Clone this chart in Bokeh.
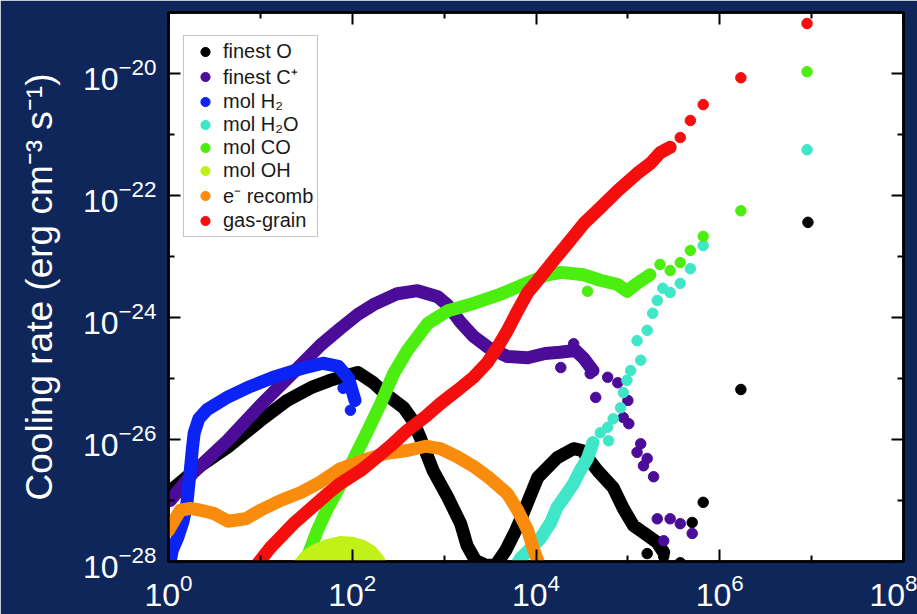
from bokeh.plotting import figure
from bokeh.models import (LogAxis, FixedTicker, Legend, LegendItem, Range1d,
                          CustomJSTickFormatter, LogTickFormatter)
from bokeh.embed import file_html
from bokeh.resources import INLINE

# ---- axes / ticks ----
x_tick_values = [1e0, 1e2, 1e4, 1e6, 1e8]
x_minor_values = [1e1, 1e3, 1e5, 1e7]
y_tick_values = [1e-28, 1e-26, 1e-24, 1e-22, 1e-20]
y_minor_values = [1e-27, 1e-25, 1e-23, 1e-21, 1e-19]
y_axis_title = "Cooling rate (erg cm\u207b\u00b3 s\u207b\u00b9)"
x_lo, x_hi = 1e0, 1e8
y_lo, y_hi = 1e-28, 1e-19

# ---- series (log10 values) ----
# finest O
o_lx = [0.02, 0.18, 0.35, 0.64, 1.00, 1.29, 1.55, 1.76, 2.06, 2.23, 2.36, 2.56, 2.66, 2.74, 2.88,
        3.04, 3.18, 3.25, 3.34, 3.45, 3.56, 3.67, 3.78, 3.86, 4.02, 4.23, 4.41, 4.50, 4.67, 4.84,
        4.95, 5.06, 5.21, 5.32, 5.39]
o_ly = [-26.84, -26.64, -26.43, -26.13, -25.69, -25.36, -25.15, -25.03, -24.90, -25.07, -25.25,
        -25.48, -25.69, -25.97, -26.51, -26.95, -27.38, -27.74, -27.98, -28.06, -28.06, -27.82,
        -27.49, -27.21, -26.62, -26.30, -26.15, -26.18, -26.51, -26.79, -27.13, -27.41, -27.57,
        -27.69, -27.85]
o_sparse_lx = [5.21, 5.39, 5.57, 5.70, 5.82, 6.23, 6.96]
o_sparse_ly = [-27.87, -27.92, -28.02, -27.36, -27.03, -25.18, -22.44]

# finest C+
c_lx = [0.02, 0.27, 0.64, 1.00, 1.36, 1.65, 1.87, 2.06, 2.23, 2.49, 2.71, 2.93, 3.04, 3.18, 3.32,
        3.47, 3.69, 3.91, 4.10, 4.26, 4.43, 4.52, 4.62]
c_ly = [-27.00, -26.54, -26.02, -25.44, -24.90, -24.46, -24.18, -23.95, -23.79, -23.61, -23.56,
        -23.66, -23.80, -24.08, -24.31, -24.48, -24.64, -24.66, -24.59, -24.57, -24.54, -24.67,
        -24.87]
c_sparse_lx = [4.41, 4.27, 4.59, 4.65, 4.78, 4.89, 5.00, 4.95, 5.01, 5.10, 5.14, 5.21, 5.17, 5.28,
               5.32, 5.46, 5.57, 5.70, 5.39]
c_sparse_ly = [-24.43, -24.82, -24.92, -25.31, -24.98, -25.07, -25.36, -25.64, -25.74, -26.21,
               -26.07, -26.31, -26.43, -26.61, -27.30, -27.30, -27.38, -27.54, -27.66]

# mol H2
h2_lx = [0.01, 0.04, 0.10, 0.16, 0.20, 0.22, 0.24, 0.26, 0.28, 0.33, 0.42, 0.65, 0.89, 1.16, 1.44,
         1.68, 1.85, 1.96, 2.03]
h2_ly = [-28.07, -27.82, -27.61, -27.33, -27.05, -26.75, -26.46, -26.15, -25.89, -25.66, -25.51,
         -25.30, -25.13, -24.97, -24.84, -24.75, -24.80, -25.00, -25.36]
h2_sparse_lx = [1.90, 1.98]
h2_sparse_ly = [-25.16, -25.52]

# mol H2O
h2o_lx = [3.74, 3.83, 3.94, 4.05, 4.16, 4.23, 4.32, 4.41, 4.48, 4.56, 4.62]
h2o_ly = [-28.18, -27.95, -27.79, -27.62, -27.36, -27.11, -26.92, -26.72, -26.51, -26.31, -26.05]
h2o_sparse_lx = [4.70, 4.78, 4.79, 4.84, 4.92, 4.95, 4.99, 5.03, 5.14, 5.10, 5.21, 5.27, 5.32,
                 5.38, 5.46, 5.57, 5.68, 5.82, 6.95]
h2o_sparse_ly = [-25.89, -25.80, -26.02, -25.66, -25.48, -25.23, -25.03, -24.87, -24.70, -24.38,
                 -24.21, -23.93, -23.72, -23.52, -23.59, -23.44, -23.20, -22.82, -21.25]

# mol CO
co_lx = [1.38, 1.51, 1.62, 1.73, 1.87, 1.98, 2.17, 2.31, 2.45, 2.60, 2.82, 3.04, 3.32, 3.61, 3.91,
         4.10, 4.27, 4.52, 4.70, 4.89, 4.99, 5.10, 5.24]
co_ly = [-28.23, -27.93, -27.49, -27.13, -26.75, -26.43, -25.85, -25.41, -24.92, -24.54, -24.10,
         -23.89, -23.77, -23.62, -23.43, -23.31, -23.26, -23.30, -23.39, -23.46, -23.57, -23.44,
         -23.30]
co_sparse_lx = [5.35, 5.46, 5.57, 5.68, 5.82, 4.56, 6.23, 6.95]
co_sparse_ly = [-23.13, -23.23, -23.10, -22.90, -22.67, -23.57, -22.25, -19.97]

# mol OH
oh_lx = [1.40, 1.49, 1.60, 1.73, 1.87, 2.00, 2.11, 2.20, 2.27, 2.33]
oh_ly = [-28.10, -27.93, -27.82, -27.74, -27.69, -27.70, -27.75, -27.83, -27.95, -28.10]

# e- recomb
e_lx = [0.00, 0.05, 0.13, 0.24, 0.35, 0.49, 0.65, 0.84, 1.00, 1.22, 1.44, 1.65, 1.87, 2.12, 2.36,
        2.60, 2.80, 2.96, 3.14, 3.32, 3.50, 3.69, 3.80, 3.91, 3.97, 4.05]
e_ly = [-27.49, -27.36, -27.16, -27.13, -27.16, -27.21, -27.34, -27.30, -27.16, -27.00, -26.87,
        -26.70, -26.48, -26.34, -26.23, -26.18, -26.11, -26.15, -26.28, -26.44, -26.64, -26.89,
        -27.16, -27.49, -27.79, -28.11]

# gas-grain
g_lx = [0.87, 0.99, 1.11, 1.36, 1.55, 1.73, 1.87, 2.09, 2.23, 2.42, 2.60, 2.80, 2.96, 3.14, 3.32,
        3.47, 3.58, 3.69, 3.80, 3.91, 4.02, 4.19, 4.37, 4.52, 4.70, 4.89, 5.10, 5.24, 5.35, 5.46]
g_ly = [-28.23, -28.00, -27.77, -27.38, -27.13, -26.89, -26.72, -26.51, -26.34, -26.10, -25.85,
        -25.62, -25.41, -25.20, -24.98, -24.74, -24.49, -24.21, -23.89, -23.59, -23.39, -23.07,
        -22.74, -22.46, -22.20, -21.92, -21.64, -21.48, -21.30, -21.21]
g_sparse_lx = [5.57, 5.68, 5.82, 6.23, 6.95]
g_sparse_ly = [-21.05, -20.77, -20.51, -20.07, -19.18]

labels = ["finest O", "finest C\u207a", "mol H\u2082", "mol H\u2082O", "mol CO", "mol OH",
          "e\u207b recomb", "gas-grain"]
colors = ["#000000", "#4b0c98", "#0b24f5", "#40e6c8", "#4cee10", "#c0f21a", "#f98c0c", "#f50e0e"]

series = [
    (o_lx, o_ly, o_sparse_lx, o_sparse_ly),
    (c_lx, c_ly, c_sparse_lx, c_sparse_ly),
    (h2_lx, h2_ly, h2_sparse_lx, h2_sparse_ly),
    (h2o_lx, h2o_ly, h2o_sparse_lx, h2o_sparse_ly),
    (co_lx, co_ly, co_sparse_lx, co_sparse_ly),
    (oh_lx, oh_ly, [], []),
    (e_lx, e_ly, [], []),
    (g_lx, g_ly, g_sparse_lx, g_sparse_ly),
]

FONT = "Liberation Sans"
NAVY = "#0f265b"
TXT = "white"


def pw(a):
    return [10.0 ** v for v in a]


blank = CustomJSTickFormatter(code="return '';")

p = figure(width=917, height=614, x_axis_type="log", y_axis_type="log",
           x_range=Range1d(x_lo, x_hi), y_range=Range1d(y_lo, y_hi),
           output_backend="svg", toolbar_location=None,
           min_border_left=168, min_border_right=14, min_border_top=12, min_border_bottom=53)
p.title.visible = False
p.background_fill_color = "white"
p.border_fill_color = NAVY
p.outline_line_color = "black"
p.outline_line_width = 2.5
p.grid.visible = False


def style(ax):
    ax.axis_line_color = "black"
    ax.axis_line_width = 2.5
    ax.major_tick_line_color = "black"
    ax.minor_tick_line_color = "black"
    ax.major_tick_line_width = 2
    ax.minor_tick_line_width = 2
    ax.major_tick_in = 12
    ax.major_tick_out = 0
    ax.minor_tick_in = 6
    ax.minor_tick_out = 0


xticker = FixedTicker(ticks=x_tick_values, minor_ticks=x_minor_values)
yticker = FixedTicker(ticks=y_tick_values, minor_ticks=y_minor_values)

xa = p.xaxis[0]
xa.ticker = xticker
xa.formatter = LogTickFormatter()
style(xa)
xa.major_label_text_font = FONT
xa.major_label_text_font_size = "32px"
xa.major_label_text_color = TXT
xa.major_label_standoff = 12

ya = p.yaxis[0]
ya.ticker = yticker
ya.formatter = LogTickFormatter()
style(ya)
ya.major_label_text_font = FONT
ya.major_label_text_font_size = "32px"
ya.major_label_text_color = TXT
ya.major_label_standoff = 12
ya.axis_label = y_axis_title
ya.axis_label_text_font = FONT
ya.axis_label_text_font_size = "37px"
ya.axis_label_text_font_style = "normal"
ya.axis_label_text_color = TXT
ya.axis_label_standoff = 20

for place, tk in (("above", xticker), ("right", yticker)):
    ax = LogAxis(ticker=tk, formatter=blank)
    style(ax)
    ax.major_label_text_font_size = "1px"
    ax.major_label_text_alpha = 0
    ax.major_label_standoff = 0
    p.add_layout(ax, place)

items = []
for (lx, ly, slx, sly), lab, col in zip(series, labels, colors):
    xs, ys = pw(lx), pw(ly)
    if lab == "mol OH":
        p.varea(x=xs, y1=ys, y2=1e-29, color=col)
    p.line(xs, ys, line_width=13, color=col, line_cap="round", line_join="round")
    r = p.scatter(xs + pw(slx), ys + pw(sly), size=10.5, color=col, marker="circle")
    items.append(LegendItem(label=lab, renderers=[r]))

legend = Legend(items=items, location=(15, 324), margin=0, padding=4, spacing=0,
                glyph_width=34, glyph_height=23, label_height=20, label_standoff=1,
                label_text_font=FONT, label_text_font_size="20px",
                label_text_color="#1a1a1a",
                border_line_color="#8c8c8c", border_line_width=1,
                background_fill_color="white", background_fill_alpha=1)
p.add_layout(legend)

open("out.html", "w").write(file_html(p, INLINE))
